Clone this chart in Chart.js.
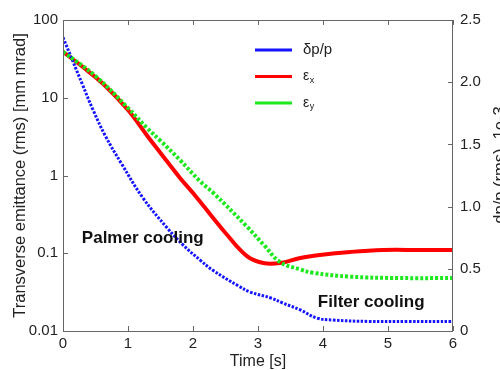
<!DOCTYPE html>
<html lang="en">
<head>
    <meta charset="UTF-8">
    <title>Palmer and filter cooling</title>
    <script src="https://cdn.jsdelivr.net/npm/chart.js"></script>
    <style>
        body {
            margin: 0;
            background-color: #fff;
        }
        .chart-box {
            width: 500px;
            height: 370px;
            position: relative;
        }
    </style>
</head>
<body>
    <div class="chart-box">
        <canvas id="coolingChart"></canvas>
    </div>

    <script>
        // time axis [s]
        const xTicks = [0, 1, 2, 3, 4, 5, 6];
        // left log axis, emittance [mm mrad]
        const yTicks = [0.01, 0.1, 1, 10, 100];
        const yTickLabels = ['0.01', '0.1', '1', '10', '100'];
        // right axis, dp/p (rms) in 1e-3
        const y2Ticks = [0, 0.5, 1.0, 1.5, 2.0, 2.5];
        const y2TickLabels = ['0', '0.5', '1.0', '1.5', '2.0', '2.5'];

        // dp/p (rms), 1e-3
        const tDpp = [0, 0.15, 0.3, 0.46, 0.65, 0.9, 1.23, 1.6, 1.85, 2.11, 2.3, 2.7, 2.88, 3.2, 3.38, 3.65, 3.9, 4.15, 4.7, 5.3, 6];
        const dpp = [2.36, 2.17, 1.98, 1.78, 1.57, 1.345, 1.07, 0.83, 0.69, 0.57, 0.49, 0.362, 0.313, 0.265, 0.225, 0.17, 0.105, 0.088, 0.077, 0.076, 0.076];

        // horizontal emittance
        const tEx = [0, 0.3, 0.62, 1.0, 1.31, 1.5, 1.8, 2.0, 2.31, 2.5, 2.83, 3.08, 3.34, 3.65, 3.95, 4.42, 4.92, 5.5, 6];
        const ex = [39, 25, 15, 6.95, 3.13, 1.95, 0.93, 0.596, 0.284, 0.182, 0.092, 0.075, 0.075, 0.087, 0.095, 0.104, 0.11, 0.11, 0.11];

        // vertical emittance
        const tEy = [0, 0.5, 1.0, 1.29, 1.5, 1.8, 2.11, 2.31, 2.83, 3.1, 3.34, 3.65, 3.85, 4.42, 5.18, 6];
        const ey = [39, 19, 7.4, 4.1, 2.8, 1.58, 0.84, 0.6, 0.22, 0.125, 0.077, 0.062, 0.056, 0.05, 0.048, 0.048];

        const seriesNames = ['δp/p', 'ε', 'ε'];
        const seriesSubs = ['', 'x', 'y'];
        const seriesColors = ['#1414ff', '#ff0000', '#1ee81e'];

        const annotations = [
            { text: 'Palmer cooling', t: 0.29, v: 0.157 },
            { text: 'Filter cooling', t: 3.92, v: 0.0236 }
        ];

        const toPoints = (ts, vs) => ts.map((t, i) => ({ x: t, y: vs[i] }));

        const font = 'Liberation Sans, Arial, sans-serif';

        // frame, inward ticks, legend, notes, right-hand title
        const decorations = {
            id: 'decorations',
            afterDraw(chart) {
                const { ctx, chartArea: a, scales } = chart;
                ctx.save();
                ctx.strokeStyle = '#666';
                ctx.lineWidth = 1;
                ctx.strokeRect(a.left + 0.5, a.top + 0.5, a.right - a.left - 1, a.bottom - a.top);

                ctx.beginPath();
                xTicks.forEach(v => {
                    const px = Math.round(scales.x.getPixelForValue(v)) + 0.5;
                    ctx.moveTo(px, a.bottom); ctx.lineTo(px, a.bottom - 5);
                    ctx.moveTo(px, a.top); ctx.lineTo(px, a.top + 5);
                });
                yTicks.forEach(v => {
                    const py = Math.round(scales.y.getPixelForValue(v)) + 0.5;
                    ctx.moveTo(a.left, py); ctx.lineTo(a.left + 5, py);
                });
                y2Ticks.forEach(v => {
                    const py = Math.round(scales.y2.getPixelForValue(v)) + 0.5;
                    ctx.moveTo(a.right, py); ctx.lineTo(a.right - 5, py);
                });
                ctx.stroke();

                // legend
                ctx.textBaseline = 'middle';
                ctx.textAlign = 'left';
                seriesNames.forEach((name, i) => {
                    const y = 50 + i * 26.5;
                    ctx.strokeStyle = seriesColors[i];
                    ctx.lineWidth = 3;
                    ctx.beginPath();
                    ctx.moveTo(255, y); ctx.lineTo(292, y);
                    ctx.stroke();
                    ctx.fillStyle = '#222';
                    if (seriesSubs[i]) {
                        ctx.font = '14px ' + font;
                        ctx.fillText(name, 303, y);
                        const w = ctx.measureText(name).width;
                        ctx.font = '9px ' + font;
                        ctx.fillText(seriesSubs[i], 303 + w + 0.5, y + 4);
                    } else {
                        ctx.font = '15px ' + font;
                        ctx.fillText(name, 303, y);
                    }
                });

                // annotations
                ctx.font = 'bold 17px ' + font;
                ctx.fillStyle = '#111';
                annotations.forEach(n => {
                    ctx.fillText(n.text, scales.x.getPixelForValue(n.t), scales.y.getPixelForValue(n.v));
                });

                // right axis title, reading upwards
                ctx.translate(500, 165);
                ctx.rotate(-Math.PI / 2);
                ctx.textAlign = 'center';
                ctx.font = '16.5px ' + font;
                ctx.fillStyle = '#222';
                ctx.fillText('dp/p (rms), 1e-3', 0, 0);
                ctx.restore();
            }
        };

        new Chart(document.getElementById('coolingChart'), {
            type: 'line',
            data: {
                datasets: [
                    {
                        label: seriesNames[0],
                        data: toPoints(tDpp, dpp),
                        yAxisID: 'y2',
                        borderColor: seriesColors[0],
                        borderWidth: 3,
                        borderDash: [2.5, 1.5],
                        order: 1
                    },
                    {
                        label: seriesNames[1] + seriesSubs[1],
                        data: toPoints(tEx, ex),
                        yAxisID: 'y',
                        borderColor: seriesColors[1],
                        borderWidth: 4,
                        order: 2
                    },
                    {
                        label: seriesNames[2] + seriesSubs[2],
                        data: toPoints(tEy, ey),
                        yAxisID: 'y',
                        borderColor: seriesColors[2],
                        borderWidth: 4,
                        borderDash: [3, 2],
                        order: 0
                    }
                ]
            },
            options: {
                responsive: true,
                maintainAspectRatio: false,
                animation: false,
                layout: { padding: { top: 20, left: 0, right: 0, bottom: 0 } },
                elements: {
                    point: { radius: 0 },
                    line: { tension: 0.4, borderCapStyle: 'butt', fill: false }
                },
                plugins: {
                    legend: { display: false },
                    tooltip: { enabled: false }
                },
                scales: {
                    x: {
                        type: 'linear',
                        min: 0,
                        max: 6,
                        afterBuildTicks: s => { s.ticks = xTicks.map(v => ({ value: v })); },
                        afterFit: s => { s.height = 39; },
                        grid: { display: false, drawTicks: false },
                        border: { display: false },
                        ticks: { color: '#222', padding: 4, font: { family: font, size: 15 } },
                        title: {
                            display: true,
                            text: 'Time [s]',
                            color: '#222',
                            padding: 0,
                            font: { family: font, size: 16, lineHeight: 1 }
                        }
                    },
                    y: {
                        type: 'logarithmic',
                        position: 'left',
                        min: 0.01,
                        max: 100,
                        afterBuildTicks: s => { s.ticks = yTicks.map(v => ({ value: v })); },
                        afterFit: s => { s.width = 63; },
                        grid: { display: false, drawTicks: false },
                        border: { display: false },
                        ticks: {
                            color: '#222',
                            padding: 5,
                            font: { family: font, size: 15 },
                            callback: v => yTickLabels[yTicks.indexOf(v)]
                        },
                        title: {
                            display: true,
                            text: 'Transverse emittance (rms) [mm mrad]',
                            color: '#222',
                            padding: { top: 12, bottom: 0 },
                            font: { family: font, size: 16.5, lineHeight: 1 }
                        }
                    },
                    y2: {
                        type: 'linear',
                        position: 'right',
                        min: 0,
                        max: 2.5,
                        afterBuildTicks: s => { s.ticks = y2Ticks.map(v => ({ value: v })); },
                        afterFit: s => { s.width = 47; },
                        grid: { display: false, drawTicks: false },
                        border: { display: false },
                        ticks: {
                            color: '#222',
                            padding: 7,
                            font: { family: font, size: 15 },
                            callback: v => y2TickLabels[y2Ticks.indexOf(v)]
                        }
                    }
                }
            },
            plugins: [decorations]
        });
    </script>
</body>
</html>
